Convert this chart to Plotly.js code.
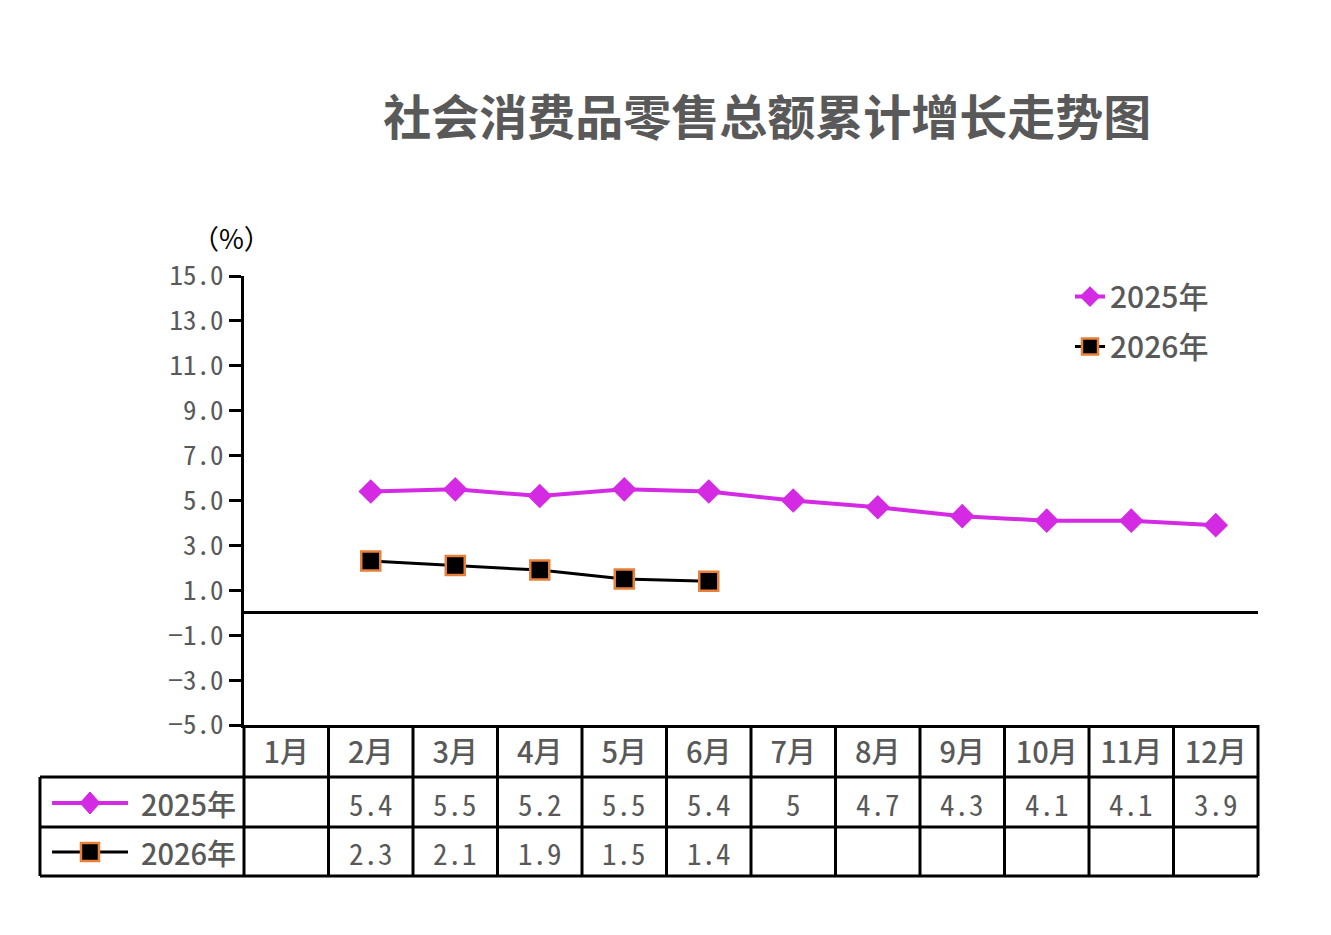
<!DOCTYPE html>
<html>
<head>
<meta charset="utf-8">
<script src="https://cdn.plot.ly/plotly-3.0.1.min.js"></script>
<style>
  html, body { margin: 0; padding: 0; background: #fff; }
  #chart { width: 1331px; height: 935px; }
</style>
</head>
<body>
<div id="chart"></div>
<script>
// data
var months = ['1月', '2月', '3月', '4月', '5月', '6月', '7月', '8月', '9月', '10月', '11月', '12月'];
var growth2025 = [null, 5.4, 5.5, 5.2, 5.5, 5.4, 5, 4.7, 4.3, 4.1, 4.1, 3.9];
var growth2026 = [null, 2.3, 2.1, 1.9, 1.5, 1.4, null, null, null, null, null, null];
var seriesNames = ['2025年', '2026年'];
var yTicks = [-5, -3, -1, 1, 3, 5, 7, 9, 11, 13, 15];

var grey = '#595959';
var magenta = '#D42AE4';
var orange = '#E8803A';
var cjk = '"Noto Sans CJK SC", "Noto Sans", sans-serif';
var mono = '"Noto Sans Mono CJK SC", "DejaVu Sans Mono", monospace';

var data = [
  {
    x: months,
    y: growth2025,
    name: seriesNames[0],
    legendgroup: 'a',
    type: 'scatter',
    mode: 'lines+markers',
    line: {color: magenta, width: 4},
    marker: {symbol: 'diamond', size: 19, color: magenta}
  },
  {
    x: months,
    y: growth2026,
    name: seriesNames[1],
    legendgroup: 'b',
    type: 'scatter',
    mode: 'lines+markers',
    line: {color: '#000', width: 3},
    marker: {symbol: 'square', size: 19, color: '#000', line: {color: orange, width: 2.5}}
  }
];

// table grid (paper coords: plot area is 244..1258 px wide, 276..725 px tall)
var rowTop = -0.1158, rowMid = -0.2272, rowBot = -0.3363, leftEdge = -0.2012;
var shapes = [];
for (var k = 0; k <= 12; k++) {
  shapes.push({type: 'line', xref: 'paper', yref: 'paper', x0: k / 12, x1: k / 12,
    y0: 0, y1: rowBot, line: {color: '#000', width: 3}});
}
[rowTop, rowMid, rowBot].forEach(function(y) {
  shapes.push({type: 'line', xref: 'paper', yref: 'paper', x0: leftEdge, x1: 1,
    y0: y, y1: y, line: {color: '#000', width: 3}});
});
shapes.push({type: 'line', xref: 'paper', yref: 'paper', x0: leftEdge, x1: leftEdge,
  y0: rowTop, y1: rowBot, line: {color: '#000', width: 3}});

// row legend samples inside the table
var row1 = -0.1737, row2 = -0.2829;
shapes.push({type: 'line', xref: 'paper', yref: 'paper', x0: -0.1893, x1: -0.1144,
  y0: row1, y1: row1, line: {color: magenta, width: 4}});
shapes.push({type: 'path', xref: 'paper', yref: 'paper', xsizemode: 'pixel', ysizemode: 'pixel',
  xanchor: -0.1519, yanchor: row1, path: 'M 0 11 L 10 0 L 0 -11 L -10 0 Z',
  fillcolor: magenta, line: {color: magenta, width: 1}});
shapes.push({type: 'line', xref: 'paper', yref: 'paper', x0: -0.1893, x1: -0.1144,
  y0: row2, y1: row2, line: {color: '#000', width: 3}});
shapes.push({type: 'path', xref: 'paper', yref: 'paper', xsizemode: 'pixel', ysizemode: 'pixel',
  xanchor: -0.1519, yanchor: row2, path: 'M -9 -9 L 9 -9 L 9 9 L -9 9 Z',
  fillcolor: '#000', line: {color: orange, width: 2.5}});

var annotations = [
  {text: '（%）', xref: 'paper', yref: 'paper', x: -0.0128, y: 1.085, xanchor: 'center', yanchor: 'middle',
    showarrow: false, font: {family: cjk, size: 27, color: '#000'}},
  {text: seriesNames[0], xref: 'paper', yref: 'paper', x: -0.0552, y: row1, xanchor: 'center', yanchor: 'middle',
    showarrow: false, font: {family: cjk, size: 29, color: grey, weight: 500}},
  {text: seriesNames[1], xref: 'paper', yref: 'paper', x: -0.0552, y: row2, xanchor: 'center', yanchor: 'middle',
    showarrow: false, font: {family: cjk, size: 29, color: grey, weight: 500}}
];
[growth2025, growth2026].forEach(function(series, s) {
  series.forEach(function(v, i) {
    if (v === null) return;
    annotations.push({text: String(v), xref: 'x', yref: 'paper', x: months[i], y: s === 0 ? row1 : row2,
      xanchor: 'center', yanchor: 'middle', showarrow: false,
      font: {family: mono, size: 29, color: grey}});
  });
});

var layout = {
  width: 1331,
  height: 935,
  margin: {l: 244, r: 73, t: 276, b: 210},
  paper_bgcolor: '#fff',
  plot_bgcolor: '#fff',
  title: {
    text: '社会消费品零售总额累计增长走势图',
    font: {family: cjk, size: 48, color: grey, weight: 'bold'},
    x: 0.516, xref: 'paper', xanchor: 'center',
    y: 0.874, yref: 'container', yanchor: 'middle'
  },
  showlegend: true,
  legend: {
    x: 0.8146, y: 1.012, xanchor: 'left', yanchor: 'top',
    bgcolor: 'rgba(0,0,0,0)', tracegroupgap: 8,
    font: {family: cjk, size: 30, color: grey, weight: 500}
  },
  xaxis: {
    type: 'category',
    range: [-0.5, 11.5],
    showline: true, linecolor: '#000', linewidth: 3,
    ticks: '', showgrid: false, zeroline: false,
    ticklabelstandoff: 0,
    tickfont: {family: cjk, size: 29, color: grey, weight: 500},
    fixedrange: true
  },
  yaxis: {
    range: [-5, 15],
    tickvals: yTicks,
    tickformat: '.1f',
    showline: true, linecolor: '#000', linewidth: 3,
    ticks: 'outside', ticklen: 12, tickwidth: 3, tickcolor: '#000',
    showgrid: false,
    zeroline: true, zerolinecolor: '#000', zerolinewidth: 3,
    tickfont: {family: mono, size: 27, color: grey},
    fixedrange: true
  },
  shapes: shapes,
  annotations: annotations
};

Plotly.newPlot('chart', data, layout, {displayModeBar: false, staticPlot: true});
</script>
</body>
</html>
